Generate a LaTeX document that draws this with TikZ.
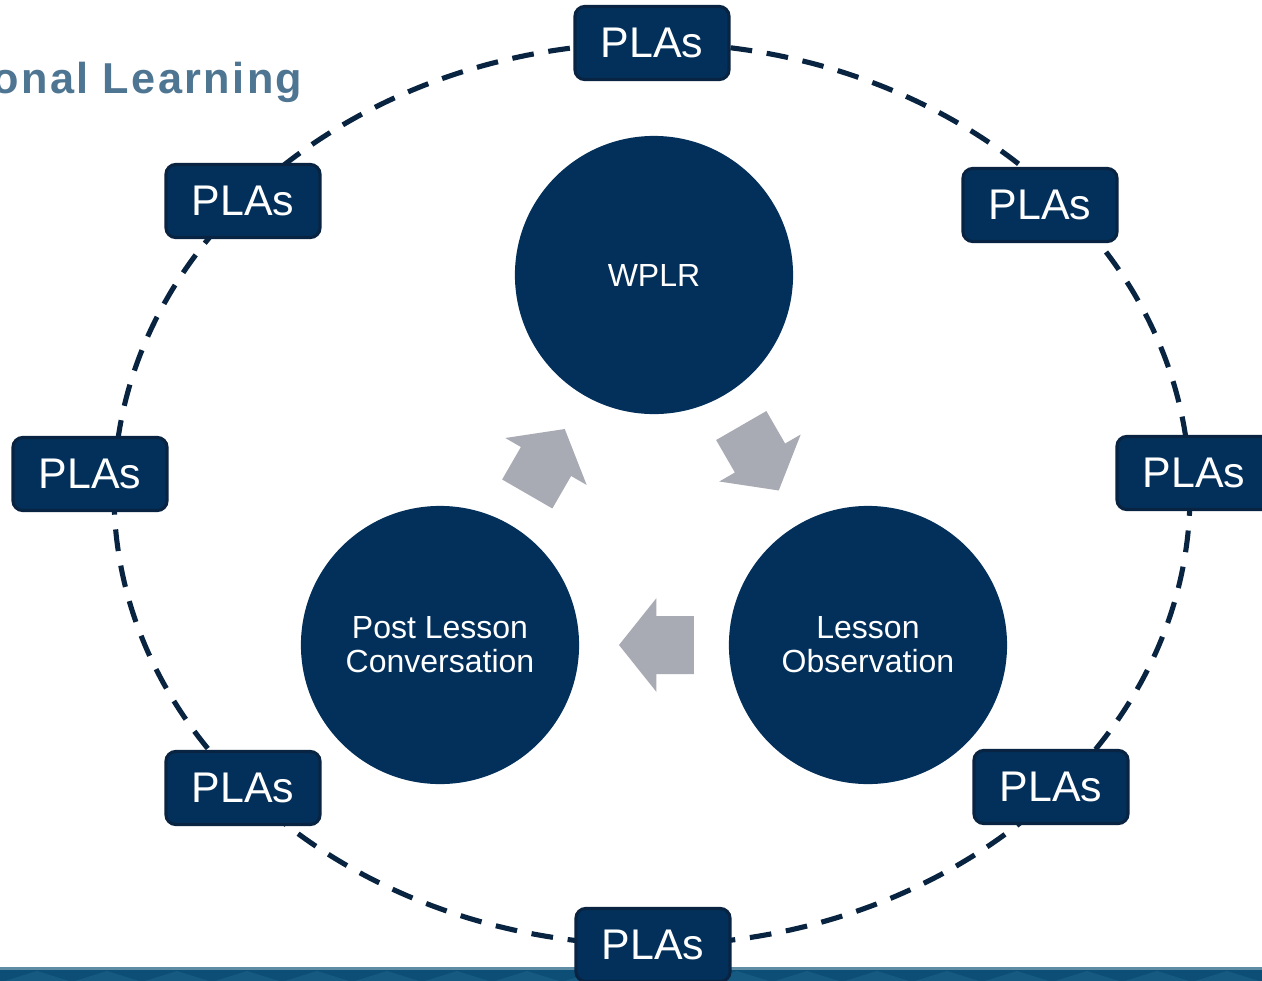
\documentclass[tikz,border=0pt]{standalone}
\usepackage{fontspec}
\setmainfont{Liberation Sans}
\newfontfamily\headfont[LetterSpace=5.5]{Liberation Sans}
\usetikzlibrary{positioning}
\definecolor{navy}{RGB}{3,48,90}
\definecolor{navyedge}{RGB}{9,36,66}
\definecolor{ringblue}{RGB}{8,36,64}
\definecolor{arrowgray}{RGB}{169,171,180}
\definecolor{headblue}{RGB}{78,117,145}
\definecolor{bandblue}{RGB}{12,78,118}
\definecolor{bandlight}{RGB}{22,90,130}
\definecolor{bandtop}{RGB}{95,140,165}
\tikzset{font=\small}
\tikzset{
  stage/.style={circle, fill=navy, minimum size=2.78cm, inner sep=0pt,
    text=white, align=center, font=\fontsize{9.1}{9.7}\selectfont},
  plas/.style={rectangle, rounded corners=2.8pt, fill=navy, draw=navyedge,
    line width=0.9pt, minimum width=1.54cm, minimum height=0.73cm,
    text=white, font=\fontsize{12.2}{14}\selectfont},
  headtitle/.style={text=headblue, inner sep=0pt,
    font=\headfont\bfseries\fontsize{12.3}{14}\selectfont},
  cyclearrow/.pic={
    \fill[arrowgray] (-37.5,-29) -- (0,-29) -- (0,-47) -- (37.5,0)
      -- (0,47) -- (0,29) -- (-37.5,29) -- cycle;
  }
}

\begin{document}
\begin{tikzpicture}[x=0.01cm, y=-0.01cm]
  \useasboundingbox (0,0) rectangle (1262,981);
  \clip (0,0) rectangle (1262,981);

  % band at the foot
  \fill[bandblue] (0,968) rectangle (1262,981);
  \foreach \x in {37,107,...,1300}{
    \fill[bandlight] (\x-32,981) -- (\x,971) -- (\x+32,981) -- cycle;
  };
  \draw[bandtop, line width=0.6pt] (0,968.5) -- (1262,968.5);

  % dashed ring
  \draw[ringblue, line width=1.45pt, dash pattern=on 6.2pt off 4.2pt]
    (652,494) ellipse [x radius=538, y radius=451];

  \node[headtitle, anchor=base east] (title) at (303,93) {onal Learning};

  % the three stages
  \node[stage] (wplr) at (654,275) {WPLR};
  \node[stage] (plc) at (440,645) {Post Lesson\\Conversation};
  \node[stage] (obs) at (868,645) {Lesson\\Observation};

  \pic[rotate=60] at (546,461.5) {cyclearrow};
  \pic[rotate=-60] at (760,458) {cyclearrow};
  \pic[rotate=180] at (656.5,645) {cyclearrow};

  % PLAs round the ring
  \foreach \px/\py [count=\i] in {652/43, 1040/205, 1194/473, 1051/787,
                                  653/945, 243/788, 90/474, 243/201}{
    \node[plas] (pla\i) at (\px,\py) {PLAs};
  };
\end{tikzpicture}
\end{document}
